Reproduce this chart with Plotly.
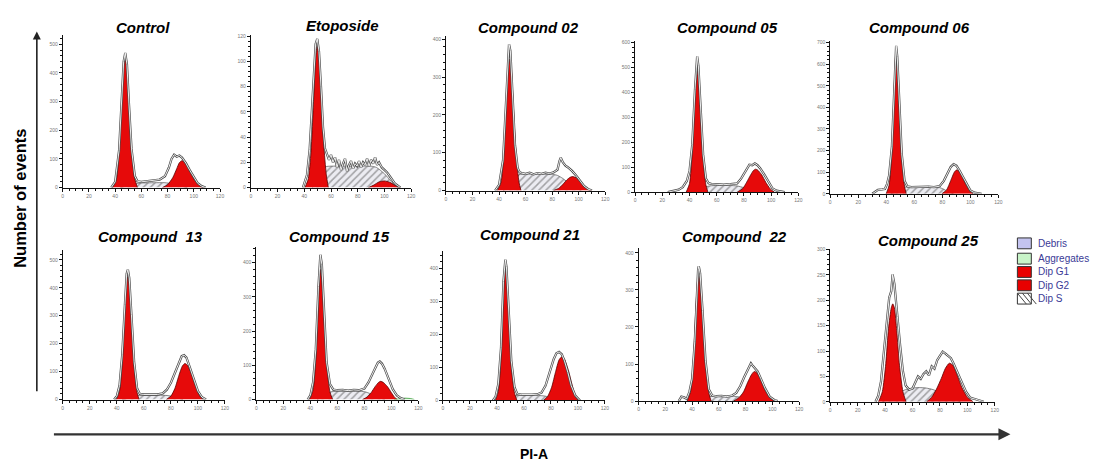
import plotly.graph_objects as go

W, H = 1107, 464

# ---------------- data ----------------
TITLES = ["Control", "Etoposide", "Compound 02", "Compound 05", "Compound 06",
          "Compound\u00a0 13", "Compound 15", "Compound 21", "Compound\u00a0 22", "Compound 25"]
Y_MAX = [534, 121, 410, 605, 708, 536, 447, 451, 413, 301]
Y_STEP = [100, 20, 100, 100, 100, 100, 100, 100, 100, 50]
X_TICKS = [0, 20, 40, 60, 80, 100, 120]

CTRL_G1_X = [38, 41, 43, 45, 46.5, 47.7, 49, 50.5, 52.5, 55, 57]
CTRL_G1_Y = [0, 30, 125, 305, 428, 455, 418, 285, 125, 30, 0]
CTRL_G2_X = [76, 80, 84, 87, 89, 91, 93, 96, 100, 104, 107]
CTRL_G2_Y = [0, 10, 35, 66, 87, 94, 89, 66, 30, 8, 0]
CTRL_S_X = [44, 50, 55, 60, 70, 78, 84, 90, 95]
CTRL_S_Y = [0, 8, 14, 16, 17, 17, 13, 6, 0]
CTRL_ENV_X = [37, 40, 43, 45, 46.5, 47.7, 49, 50.5, 52.5, 55, 57, 60, 65, 70, 74, 78, 81, 83, 85, 87, 89, 91, 94, 97, 100, 103, 106, 109]
CTRL_ENV_Y = [0, 20, 130, 315, 440, 470, 430, 295, 135, 40, 22, 20, 22, 24, 28, 40, 70, 100, 115, 108, 112, 105, 85, 60, 35, 15, 5, 0]
CTRL_PEAKS = [47, 87]

ETO_G1_X = [40.5, 43, 45, 47, 48.5, 49.7, 51, 52.5, 54.5, 56.5, 58]
ETO_G1_Y = [0, 7, 28, 70, 103, 113, 104, 75, 35, 10, 0]
ETO_G2_X = [88, 92, 96, 100, 104, 108, 112]
ETO_G2_Y = [0, 2, 4.5, 5.3, 4.2, 1.8, 0]
ETO_S_X = [46, 50, 53, 56, 60, 70, 80, 90, 94, 100, 105, 110]
ETO_S_Y = [0, 4, 11, 16.5, 17, 17, 17, 17, 16, 11, 5, 0]
ETO_ENV_X = [39, 42, 44, 46, 47.5, 48.5, 49.7, 51, 52.5, 54, 55.5, 57, 58.5, 60, 61.5, 63, 64.5, 66, 67.5, 69, 70.5, 72, 73.5, 75, 76.5, 78, 79.5, 81, 82.5, 84, 85.5, 87, 88.5, 90, 91.5, 93, 94.5, 96, 98, 100, 102, 104, 106, 108, 110, 112]
ETO_ENV_Y = [0, 10, 30, 70, 102, 114, 118, 108, 80, 48, 31, 27, 22, 26, 20, 24, 16, 22, 14, 19, 23, 13, 18, 21, 15, 19, 17, 21, 16, 20, 18, 23, 17, 22, 19, 24, 18, 20, 16, 14, 12, 9, 6, 3, 1.5, 0]
ETO_PEAKS = [50]

C02_G1_X = [38.7, 41.5, 43.5, 45.5, 47, 48, 49.2, 50.8, 52.8, 55, 56.5]
C02_G1_Y = [0, 22, 95, 235, 328, 348, 322, 220, 95, 22, 0]
C02_G2_X = [81, 85, 88, 91, 93.5, 95.5, 98, 101, 104, 107, 110]
C02_G2_Y = [0, 6, 16, 28, 35, 37, 34, 24, 12, 4, 0]
C02_S_X = [43, 48, 52, 55, 60, 70, 80, 84, 88, 93, 98, 102]
C02_S_Y = [0, 10, 30, 42, 44, 44, 43, 40, 32, 18, 6, 0]
C02_ENV_X = [37, 40, 43, 45, 46.5, 47.5, 48.5, 50, 52, 54, 55.5, 57, 60, 63, 66, 69, 72, 75, 78, 81, 84, 85.5, 86.5, 88, 90, 92, 95, 98, 101, 104, 107, 110]
C02_ENV_Y = [0, 15, 80, 230, 350, 387, 370, 250, 120, 60, 48, 46, 44, 47, 43, 46, 44, 47, 45, 48, 55, 78, 87, 75, 66, 61, 52, 40, 25, 12, 4, 0]
C02_PEAKS = [48, 86]

C05_G1_X = [37.5, 40, 42, 44, 45, 45.6, 46.5, 48, 50, 52, 53.5]
C05_G1_Y = [0, 35, 160, 370, 465, 487, 455, 320, 135, 30, 0]
C05_G2_X = [75, 79, 82, 85, 87, 88.5, 90, 93, 96, 99.5, 102.5]
C05_G2_Y = [0, 14, 40, 70, 87, 92, 89, 70, 40, 12, 0]
C05_S_X = [42, 47, 52, 56, 62, 70, 75, 80, 85, 90]
C05_S_Y = [0, 8, 22, 26, 27, 27, 25, 18, 8, 0]
C05_ENV_X = [24, 28, 32, 35, 38, 40, 42, 44, 45, 45.6, 46.5, 48, 50, 52, 54, 56, 60, 65, 70, 75, 78, 81, 84, 86, 88, 90, 92, 95, 98, 101, 104, 107, 110]
C05_ENV_Y = [0, 4, 10, 20, 45, 85, 190, 410, 515, 543, 505, 340, 150, 55, 36, 33, 32, 30, 32, 35, 55, 85, 110, 108, 115, 108, 95, 70, 40, 15, 6, 2, 0]
C05_PEAKS = [46, 84]

C06_G1_X = [39.9, 42, 44, 45.5, 46.5, 47, 47.8, 49, 51, 53, 54.2]
C06_G1_Y = [0, 40, 200, 470, 630, 670, 620, 430, 170, 35, 0]
C06_G2_X = [79.6, 83, 86, 88.5, 90, 91.5, 94, 97, 100, 102]
C06_G2_Y = [0, 18, 62, 100, 110, 107, 80, 40, 10, 0]
C06_S_X = [43, 48, 52, 55, 62, 70, 76, 80, 84, 88]
C06_S_Y = [0, 10, 28, 33, 34, 33, 32, 24, 10, 0]
C06_ENV_X = [30, 32, 34, 37, 39, 40.5, 42, 44, 45.5, 46.5, 47, 47.8, 49, 51, 53, 55, 58, 62, 66, 70, 74, 78, 81, 84, 86, 88, 90, 92, 94, 97, 100, 103, 106, 108]
C06_ENV_Y = [0, 10, 18, 20, 22, 45, 85, 220, 485, 655, 685, 635, 445, 185, 60, 34, 31, 32, 30, 33, 31, 35, 60, 100, 125, 137, 130, 110, 85, 45, 15, 5, 1, 0]
C06_PEAKS = [47, 88]

C13_G1_X = [39.6, 42, 44, 46, 47.3, 48.2, 49.2, 50.8, 52.8, 55, 56.5]
C13_G1_Y = [0, 30, 130, 320, 425, 441, 415, 290, 120, 25, 0]
C13_G2_X = [76.6, 80, 83, 86, 88.5, 90.4, 92.5, 95.5, 98.5, 101.5, 104]
C13_G2_Y = [0, 12, 40, 87, 120, 129, 121, 88, 45, 12, 0]
C13_S_X = [44, 49, 53, 58, 66, 74, 78, 82, 86, 89]
C13_S_Y = [0, 6, 13, 15, 15, 15, 14, 10, 4, 0]
C13_ENV_X = [38, 40, 42, 44, 46, 47.3, 48.2, 49.2, 50.8, 52.8, 55, 57, 60, 65, 70, 74, 77, 80, 83, 86, 88, 89.7, 91.5, 94, 97, 100, 103, 106]
C13_ENV_Y = [0, 12, 50, 160, 340, 450, 465, 435, 305, 135, 40, 20, 18, 17, 18, 22, 35, 60, 95, 135, 155, 159, 150, 115, 70, 30, 8, 0]
C13_PEAKS = [47.5, 89]

C15_G1_X = [39.3, 42, 44, 46, 47, 47.4, 48.3, 50, 52, 54.5, 56.5]
C15_G1_Y = [0, 28, 115, 285, 370, 380, 355, 245, 105, 22, 0]
C15_G2_X = [78.6, 82, 85, 88, 90.5, 92, 94, 97, 100, 102.5, 104.4]
C15_G2_Y = [0, 7, 20, 38, 50, 53, 50, 38, 20, 6, 0]
C15_S_X = [45, 50, 55, 60, 70, 80, 85, 90, 95]
C15_S_Y = [0, 10, 22, 24, 24, 23, 16, 7, 0]
C15_AGG_X = [102, 106, 110, 114, 117]
C15_AGG_Y = [0, 3, 4, 3, 0]
C15_ENV_X = [38, 40, 42, 44, 46, 47, 47.4, 48.5, 50, 52, 54.5, 57, 60, 64, 68, 72, 76, 80, 83, 86, 88, 90, 91.4, 93, 95, 98, 101, 104, 107, 110]
C15_ENV_Y = [0, 12, 50, 145, 330, 410, 423, 395, 265, 110, 45, 29, 27, 28, 26, 28, 27, 32, 50, 75, 95, 108, 111, 105, 90, 60, 30, 12, 4, 0]
C15_PEAKS = [47.5, 92]

C21_G1_X = [38.8, 41, 43, 44.8, 45.6, 46.2, 47, 48.6, 50.6, 53, 54.8]
C21_G1_Y = [0, 28, 130, 320, 393, 406, 385, 265, 105, 22, 0]
C21_G2_X = [74.4, 77.5, 80.5, 83.5, 86, 88, 90, 93, 95.5, 98, 100.2]
C21_G2_Y = [0, 12, 40, 88, 123, 132, 125, 90, 50, 14, 0]
C21_S_X = [43, 48, 52, 56, 65, 72, 76, 80, 84, 87]
C21_S_Y = [0, 6, 13, 16, 16, 15, 13, 8, 3, 0]
C21_ENV_X = [37, 39, 41, 43, 44.8, 45.6, 46.2, 47, 48.6, 50.6, 53, 55, 58, 62, 66, 70, 73, 76, 79, 82, 84, 86, 88, 90, 92.5, 95, 98, 101.5]
C21_ENV_Y = [0, 12, 50, 160, 360, 418, 426, 405, 280, 120, 40, 20, 18, 17, 18, 19, 24, 45, 85, 125, 143, 147, 140, 120, 85, 45, 15, 0]
C21_PEAKS = [45.5, 85]

C22_G1_X = [36.3, 39, 41, 43, 44.2, 45, 46, 47.8, 50, 52.5, 54.2]
C22_G1_Y = [0, 28, 115, 265, 328, 338, 320, 230, 100, 22, 0]
C22_G2_X = [71, 75, 78.5, 81.5, 84.5, 86.5, 88.5, 91.5, 94.5, 98, 101.4]
C22_G2_Y = [0, 9, 25, 50, 72, 80, 76, 56, 30, 9, 0]
C22_S_X = [40, 45, 50, 54, 62, 70, 74, 78, 82, 86]
C22_S_Y = [0, 5, 11, 13, 13, 13, 12, 8, 3, 0]
C22_ENV_X = [30, 32, 34, 36, 38, 40, 42, 43.5, 44.5, 45, 46, 47.8, 50, 52.5, 55, 58, 62, 66, 70, 73, 76, 79, 82, 84, 85, 86, 87.5, 89, 91.5, 94.5, 98, 101.5, 104]
C22_ENV_Y = [0, 12, 10, 6, 25, 60, 160, 300, 355, 364, 345, 245, 110, 32, 15, 13, 14, 12, 15, 22, 40, 65, 90, 102, 97, 93, 88, 80, 60, 35, 12, 3, 0]
C22_PEAKS = [46, 83]

C25_G1_X = [35.2, 38, 40.5, 42.5, 44.5, 45.6, 46.8, 48.5, 50.5, 53, 55.3]
C25_G1_Y = [0, 20, 75, 145, 185, 193, 185, 140, 72, 20, 0]
C25_G2_X = [70.3, 74, 77.5, 81, 84, 86.8, 89.5, 92.5, 96, 100, 104.2]
C25_G2_Y = [0, 9, 25, 46, 66, 76, 72, 53, 28, 9, 0]
C25_S_X = [38, 44, 50, 55, 60, 65, 70, 75, 80, 85, 90, 95]
C25_S_Y = [0, 8, 18, 24, 27, 28, 27, 24, 18, 11, 5, 0]
C25_ENV_X = [33, 35, 37, 39, 41, 43, 44.5, 45.5, 46.8, 47.8, 49, 51, 53, 55, 57.5, 60, 62, 64, 66, 68, 70, 72, 74, 76, 78, 80, 82, 84, 86, 88, 90, 93, 96, 99, 102, 106, 109, 112]
C25_ENV_Y = [0, 12, 40, 100, 160, 205, 218, 251, 232, 208, 168, 110, 60, 32, 24, 26, 38, 50, 45, 55, 60, 52, 70, 65, 82, 92, 99, 95, 90, 86, 75, 55, 38, 20, 8, 5, 2, 0]
C25_PEAKS = [45]

LEGEND_LABELS = ["Debris", "Aggregates", "Dip G1", "Dip G2", "Dip S"]

# ---------------- layout geometry (pixels) ----------------
# x0, x1 (x axis 0..120), baseline y, axis top y
BOXES = [(62, 220, 187, 32), (251, 412, 187, 32.5), (447, 607, 190, 33), (637, 801, 191.7, 38.3), (833, 1002, 193.3, 38.3),
         (62, 225, 401.7, 250), (256.5, 419.3, 401.7, 246.7), (444, 606.7, 402.7, 251.7), (640.5, 801.7, 403.3, 248.3), (833, 998.3, 404, 249.3)]
TITLE_POS = [(143, 25), (343, 23), (530, 25), (730, 25), (923, 25),
             (150, 237), (340, 237), (531, 235), (737, 237), (932, 241)]

PANELS = [
    (CTRL_G1_X, CTRL_G1_Y, CTRL_G2_X, CTRL_G2_Y, CTRL_S_X, CTRL_S_Y, CTRL_ENV_X, CTRL_ENV_Y, CTRL_PEAKS),
    (ETO_G1_X, ETO_G1_Y, ETO_G2_X, ETO_G2_Y, ETO_S_X, ETO_S_Y, ETO_ENV_X, ETO_ENV_Y, ETO_PEAKS),
    (C02_G1_X, C02_G1_Y, C02_G2_X, C02_G2_Y, C02_S_X, C02_S_Y, C02_ENV_X, C02_ENV_Y, C02_PEAKS),
    (C05_G1_X, C05_G1_Y, C05_G2_X, C05_G2_Y, C05_S_X, C05_S_Y, C05_ENV_X, C05_ENV_Y, C05_PEAKS),
    (C06_G1_X, C06_G1_Y, C06_G2_X, C06_G2_Y, C06_S_X, C06_S_Y, C06_ENV_X, C06_ENV_Y, C06_PEAKS),
    (C13_G1_X, C13_G1_Y, C13_G2_X, C13_G2_Y, C13_S_X, C13_S_Y, C13_ENV_X, C13_ENV_Y, C13_PEAKS),
    (C15_G1_X, C15_G1_Y, C15_G2_X, C15_G2_Y, C15_S_X, C15_S_Y, C15_ENV_X, C15_ENV_Y, C15_PEAKS),
    (C21_G1_X, C21_G1_Y, C21_G2_X, C21_G2_Y, C21_S_X, C21_S_Y, C21_ENV_X, C21_ENV_Y, C21_PEAKS),
    (C22_G1_X, C22_G1_Y, C22_G2_X, C22_G2_Y, C22_S_X, C22_S_Y, C22_ENV_X, C22_ENV_Y, C22_PEAKS),
    (C25_G1_X, C25_G1_Y, C25_G2_X, C25_G2_Y, C25_S_X, C25_S_Y, C25_ENV_X, C25_ENV_Y, C25_PEAKS),
]

RED = "#e60a0a"
RED_EDGE = "#5a0000"
FONT = "Liberation Sans, Arial, sans-serif"


def px(x):
    return x / W


def py(y):
    return 1 - y / H


fig = go.Figure()
layout = dict(width=W, height=H, margin=dict(l=0, r=0, t=0, b=0),
              paper_bgcolor="white", plot_bgcolor="white", showlegend=False,
              font=dict(family=FONT))
annotations = []
shapes = []

for i, (g1x, g1y, g2x, g2y, sx, sy, ex, ey, peaks) in enumerate(PANELS):
    n = i + 1
    xa = "x" if n == 1 else f"x{n}"
    ya = "y" if n == 1 else f"y{n}"
    x0, x1, base, top = BOXES[i]
    ymax = Y_MAX[i]
    step = Y_STEP[i]
    common = dict(showgrid=False, zeroline=False, showline=True, linecolor="#111", linewidth=1,
                  ticks="outside", ticklen=3, tickcolor="#111", tickwidth=1,
                  tickfont=dict(size=5, color="#777", family=FONT), fixedrange=True)
    layout["xaxis" if n == 1 else f"xaxis{n}"] = dict(
        domain=[px(x0), px(x1)], anchor=ya, range=[0, 120], tickvals=X_TICKS,
        minor=dict(dtick=5, ticks="outside", ticklen=2, tickcolor="#111"), **common)
    layout["yaxis" if n == 1 else f"yaxis{n}"] = dict(
        domain=[py(base), py(top)], anchor=xa, range=[0, ymax], dtick=step, tick0=0,
        minor=dict(dtick=step / 5, ticks="outside", ticklen=2, tickcolor="#111"), **common)

    # S phase (hatched)
    fig.add_trace(go.Scatter(x=sx, y=sy, xaxis=xa, yaxis=ya, mode="lines", fill="tozeroy",
                             line=dict(color="#555", width=0.7, shape="spline", smoothing=0.6),
                             fillcolor="#e4e4ec",
                             fillpattern=dict(shape="/", fgcolor="#555", bgcolor="#ececf2", size=5, solidity=0.3),
                             hoverinfo="skip"))
    # G1 and G2 peaks
    for gx, gy in ((g1x, g1y), (g2x, g2y)):
        fig.add_trace(go.Scatter(x=gx, y=gy, xaxis=xa, yaxis=ya, mode="lines", fill="tozeroy",
                                 fillcolor=RED, line=dict(color=RED_EDGE, width=0.8, shape="spline", smoothing=0.6),
                                 hoverinfo="skip"))
    if n == 7:
        fig.add_trace(go.Scatter(x=C15_AGG_X, y=C15_AGG_Y, xaxis=xa, yaxis=ya, mode="lines", fill="tozeroy",
                                 fillcolor="#b8f0b8", line=dict(color="#3a9a3a", width=0.8),
                                 hoverinfo="skip"))
    # measured histogram envelope (double outline)
    fig.add_trace(go.Scatter(x=ex, y=ey, xaxis=xa, yaxis=ya, mode="lines",
                             line=dict(color="#4a4a4a", width=2.3), hoverinfo="skip"))
    fig.add_trace(go.Scatter(x=ex, y=ey, xaxis=xa, yaxis=ya, mode="lines",
                             line=dict(color="#ffffff", width=0.9), hoverinfo="skip"))
    # peak markers
    fig.add_trace(go.Scatter(x=peaks, y=[-0.025 * ymax] * len(peaks), xaxis=xa, yaxis=ya, mode="markers",
                             marker=dict(symbol="triangle-up", size=6, color="black"),
                             cliponaxis=False, hoverinfo="skip"))
    # panel title
    tx, ty = TITLE_POS[i]
    annotations.append(dict(x=px(tx), y=py(ty), xref="paper", yref="paper", showarrow=False,
                            text=f"<b><i>{TITLES[i]}</i></b>", xanchor="center", yanchor="middle",
                            font=dict(size=15, color="black", family=FONT)))

# big axis arrows and labels (tails given as pixel offsets from the heads)
annotations.append(dict(x=px(36), y=py(29), ax=0, ay=361, xref="paper", yref="paper",
                        showarrow=True, arrowhead=2, arrowsize=1,
                        arrowwidth=1.6, arrowcolor="#222", text=""))
annotations.append(dict(x=px(1014), y=py(437), ax=-958, ay=0, xref="paper", yref="paper",
                        showarrow=True, arrowhead=2, arrowsize=1,
                        arrowwidth=2.4, arrowcolor="#333", text=""))
annotations.append(dict(x=px(19.5), y=py(198), xref="paper", yref="paper", showarrow=False,
                        xanchor="center", yanchor="middle",
                        text="<b>Number of events</b>", textangle=-90,
                        font=dict(size=16.5, color="black", family=FONT)))
annotations.append(dict(x=px(535), y=py(457), xref="paper", yref="paper", showarrow=False,
                        xanchor="center", yanchor="middle",
                        text="<b>PI-A</b>", font=dict(size=14, color="black", family=FONT)))

# legend (custom)
LEG_FILLS = ["#c4c4f0", "#c8f4c8", "#e80000", "#e80000", "#ffffff"]
LEG_Y = [243.5, 259, 272.5, 286, 299.5]
for lab, fc, ly in zip(LEGEND_LABELS, LEG_FILLS, LEG_Y):
    shapes.append(dict(type="rect", xref="paper", yref="paper", x0=px(1021), x1=px(1035),
                       y0=py(ly + 5.5), y1=py(ly - 5.5), fillcolor=fc, line=dict(color="#333", width=1)))
    annotations.append(dict(x=px(1040), y=py(ly), xref="paper", yref="paper", showarrow=False,
                            text=lab, xanchor="left", yanchor="middle",
                            font=dict(size=10, color="#3a3a96", family=FONT)))
for k in range(3):
    ox = 1021 + k * 5
    shapes.append(dict(type="line", xref="paper", yref="paper", x0=px(ox), y0=py(LEG_Y[4] - 5.5),
                       x1=px(ox + 9), y1=py(LEG_Y[4] + 5.5), line=dict(color="#444", width=1)))

layout["annotations"] = annotations
layout["shapes"] = shapes
fig.update_layout(**layout)
fig.write_html("out.html")
